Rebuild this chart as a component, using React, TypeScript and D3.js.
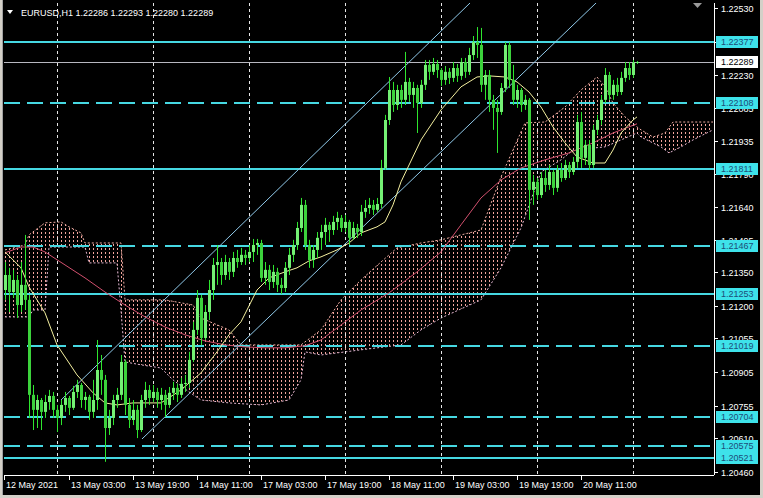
import React from "react";
import * as d3 from "d3";

const W = 763;
const H = 498;
const PL = 4, PR = 714, PT = 3, PB = 475;

const symbolTitle = "EURUSD,H1  1.22286 1.22293 1.22280 1.22289";

const firstOpen = 1.21271;
const closes = [
  1.21338, 1.21262, 1.21316, 1.21204, 1.21294, 1.21227, 1.20803, 1.20736, 1.20780, 1.20727,
  1.20771, 1.20798, 1.20736, 1.20700, 1.20758, 1.20789, 1.20745, 1.20816, 1.20847, 1.20780,
  1.20794, 1.20727, 1.20780, 1.20914, 1.20870, 1.20655, 1.20700, 1.20780, 1.20803, 1.20950,
  1.20758, 1.20691, 1.20736, 1.20646, 1.20780, 1.20825, 1.20789, 1.20816, 1.20780, 1.20803,
  1.20758, 1.20812, 1.20834, 1.20803, 1.20852, 1.20856, 1.20959, 1.21093, 1.21236, 1.21057,
  1.21173, 1.21271, 1.21383, 1.21396, 1.21338, 1.21396, 1.21352, 1.21414, 1.21396, 1.21428,
  1.21414, 1.21441, 1.21472, 1.21481, 1.21325, 1.21361, 1.21307, 1.21352, 1.21294, 1.21280,
  1.21370, 1.21428, 1.21472, 1.21548, 1.21651, 1.21472, 1.21405, 1.21450, 1.21504, 1.21530,
  1.21562, 1.21539, 1.21575, 1.21593, 1.21548, 1.21575, 1.21504, 1.21548, 1.21530, 1.21620,
  1.21637, 1.21651, 1.21629, 1.21655, 1.21816, 1.22030, 1.22164, 1.22097, 1.22164, 1.22120,
  1.22200, 1.22142, 1.22173, 1.22106, 1.22187, 1.22276, 1.22245, 1.22280, 1.22253, 1.22209,
  1.22245, 1.22218, 1.22262, 1.22227, 1.22289, 1.22245, 1.22320, 1.22378, 1.22365, 1.22187,
  1.22231, 1.22120, 1.22084, 1.22066, 1.22173, 1.22365, 1.22209, 1.22120, 1.22164, 1.22097,
  1.22120, 1.21718, 1.21754, 1.21695, 1.21771, 1.21740, 1.21798, 1.21727, 1.21807, 1.21771,
  1.21829, 1.21798, 1.21843, 1.22021, 1.21861, 1.21919, 1.21829, 1.21986, 1.22030, 1.22120,
  1.22231, 1.22142, 1.22187, 1.22155, 1.22218, 1.22262, 1.22231, 1.22286, 1.22289
];
const highs = [
  1.21396, 1.21370, 1.21361, 1.21338, 1.21396, 1.21517, 1.21249, 1.20847, 1.20803, 1.20789,
  1.20803, 1.20825, 1.20816, 1.20758, 1.20780, 1.20816, 1.20798, 1.20843, 1.20870, 1.20856,
  1.20816, 1.20803, 1.20870, 1.21048, 1.20981, 1.20892, 1.20736, 1.20803, 1.20834, 1.20981,
  1.20959, 1.20789, 1.20780, 1.20758, 1.20803, 1.20861, 1.20847, 1.20847, 1.20834, 1.20834,
  1.20825, 1.20838, 1.20861, 1.20852, 1.20879, 1.20892, 1.20995, 1.21129, 1.21271, 1.21249,
  1.21204, 1.21316, 1.21414, 1.21472, 1.21414, 1.21428, 1.21414, 1.21441, 1.21450, 1.21459,
  1.21450, 1.21472, 1.21499, 1.21499, 1.21495, 1.21396, 1.21383, 1.21383, 1.21370, 1.21325,
  1.21396, 1.21459, 1.21495, 1.21575, 1.21682, 1.21673, 1.21495, 1.21472, 1.21530, 1.21562,
  1.21593, 1.21575, 1.21602, 1.21620, 1.21606, 1.21606, 1.21584, 1.21575, 1.21566, 1.21651,
  1.21673, 1.21682, 1.21673, 1.21682, 1.21852, 1.22053, 1.22222, 1.22200, 1.22187, 1.22187,
  1.22334, 1.22218, 1.22200, 1.22187, 1.22209, 1.22298, 1.22298, 1.22307, 1.22298, 1.22262,
  1.22271, 1.22262, 1.22289, 1.22280, 1.22307, 1.22307, 1.22352, 1.22405, 1.22445, 1.22441,
  1.22253, 1.22253, 1.22142, 1.22120, 1.22195, 1.22378, 1.22378, 1.22276, 1.22187, 1.22173,
  1.22142, 1.22128, 1.21785, 1.21771, 1.21798, 1.21807, 1.21829, 1.21807, 1.21829, 1.21838,
  1.21852, 1.21843, 1.21865, 1.22053, 1.22066, 1.21941, 1.21941, 1.22008, 1.22053, 1.22142,
  1.22262, 1.22245, 1.22209, 1.22218, 1.22245, 1.22289, 1.22289, 1.22298, 1.22293
];
const lows = [
  1.21227, 1.21173, 1.21236, 1.21146, 1.21173, 1.21182, 1.20700, 1.20646, 1.20655, 1.20646,
  1.20700, 1.20736, 1.20700, 1.20637, 1.20668, 1.20727, 1.20713, 1.20736, 1.20789, 1.20745,
  1.20736, 1.20691, 1.20700, 1.20736, 1.20803, 1.20504, 1.20624, 1.20668, 1.20745, 1.20780,
  1.20713, 1.20655, 1.20668, 1.20610, 1.20637, 1.20745, 1.20758, 1.20771, 1.20745, 1.20736,
  1.20704, 1.20745, 1.20780, 1.20771, 1.20789, 1.20816, 1.20834, 1.20950, 1.21071, 1.21026,
  1.21048, 1.21137, 1.21227, 1.21294, 1.21294, 1.21316, 1.21316, 1.21329, 1.21370, 1.21383,
  1.21383, 1.21396, 1.21396, 1.21428, 1.21307, 1.21294, 1.21271, 1.21280, 1.21262, 1.21253,
  1.21262, 1.21338, 1.21396, 1.21450, 1.21530, 1.21450, 1.21370, 1.21370, 1.21414, 1.21450,
  1.21472, 1.21486, 1.21517, 1.21539, 1.21530, 1.21530, 1.21472, 1.21495, 1.21504, 1.21512,
  1.21593, 1.21611, 1.21606, 1.21620, 1.21637, 1.21807, 1.22008, 1.22066, 1.22075, 1.22084,
  1.22097, 1.22111, 1.22084, 1.21972, 1.22084, 1.22164, 1.22209, 1.22231, 1.22218, 1.22182,
  1.22187, 1.22191, 1.22200, 1.22200, 1.22209, 1.22218, 1.22231, 1.22298, 1.22307, 1.22155,
  1.22120, 1.22066, 1.21986, 1.21883, 1.22053, 1.22155, 1.22173, 1.22097, 1.22084, 1.22066,
  1.22075, 1.21584, 1.21651, 1.21673, 1.21682, 1.21709, 1.21718, 1.21695, 1.21709, 1.21754,
  1.21762, 1.21771, 1.21785, 1.21816, 1.21816, 1.21829, 1.21807, 1.21816, 1.21963, 1.22008,
  1.22106, 1.22120, 1.22120, 1.22137, 1.22142, 1.22200, 1.22209, 1.22218, 1.22280
];

// Moving averages: [bar index, price]
const maYellow = [
  [0, 1.21441], [4, 1.2137], [6, 1.21285], [10, 1.21169], [13, 1.21026], [18, 1.20892],
  [22, 1.20812], [25, 1.20767], [28, 1.20758], [32, 1.20767], [39, 1.20767], [44, 1.20825],
  [49, 1.20901], [53, 1.20995], [56, 1.21071], [59, 1.21129], [63, 1.21271], [66, 1.21325],
  [70, 1.21352], [73, 1.2137], [76, 1.21401], [79, 1.21419], [83, 1.2145], [86, 1.21481],
  [89, 1.21526], [93, 1.21553], [95, 1.21575], [97, 1.21651], [99, 1.21754], [104, 1.21941],
  [109, 1.22075], [114, 1.22178], [118, 1.22222], [121, 1.22227], [125, 1.22222], [128, 1.222],
  [131, 1.22155], [134, 1.22088], [137, 1.21999], [140, 1.21928], [143, 1.21865], [147, 1.21838],
  [150, 1.21838], [152, 1.21896], [154, 1.21972], [157, 1.2203], [158, 1.22044]
];
const maRed = [
  [0, 1.21437], [4, 1.21463], [7, 1.21463], [10, 1.21441], [15, 1.21383], [20, 1.21325],
  [25, 1.21262], [30, 1.21204], [35, 1.21151], [40, 1.21106], [45, 1.21071], [50, 1.21044],
  [55, 1.21026], [60, 1.21017], [65, 1.21013], [70, 1.21013], [75, 1.21022], [79, 1.21048],
  [84, 1.21115], [89, 1.21182], [96, 1.21258], [103, 1.21352], [109, 1.21441], [114, 1.21562],
  [119, 1.21682], [124, 1.21762], [129, 1.21816], [135, 1.21852], [141, 1.21883], [147, 1.21928],
  [152, 1.21972], [158, 1.22013]
];

// Ichimoku cloud envelope: [bar index, price]
const cloudUpper = [
  [0, 1.2145], [5, 1.21472], [6, 1.21517], [10, 1.21571], [14, 1.21575], [16, 1.21553],
  [19, 1.21526], [20, 1.21481], [29, 1.21481], [30, 1.21227], [40, 1.21227], [47, 1.21204],
  [49, 1.21146], [56, 1.21093], [59, 1.21026], [74, 1.21026], [79, 1.21093], [84, 1.21227],
  [89, 1.21316], [94, 1.21396], [98, 1.21459], [104, 1.21481], [109, 1.21495], [119, 1.21539],
  [124, 1.21776], [127, 1.21896], [130, 1.22017], [135, 1.22021], [140, 1.22088], [144, 1.22164],
  [148, 1.22222], [150, 1.22178], [152, 1.22106], [155, 1.22044], [158, 1.21999], [159, 1.21986],
  [162, 1.21954], [165, 1.21972], [167, 1.22021], [177, 1.22021]
];
const cloudLower = [
  [0, 1.21151], [6, 1.21151], [7, 1.21182], [10, 1.21182], [11, 1.21463], [20, 1.21463],
  [21, 1.21392], [28, 1.21392], [29, 1.21182], [30, 1.2095], [34, 1.20937], [39, 1.20923],
  [42, 1.2087], [46, 1.20816], [49, 1.2078], [56, 1.20767], [64, 1.20758], [71, 1.2078],
  [74, 1.2087], [75, 1.20995], [79, 1.20981], [89, 1.21004], [99, 1.21026], [104, 1.21093],
  [109, 1.21146], [119, 1.21227], [124, 1.2137], [129, 1.21548], [134, 1.21798], [139, 1.21852],
  [142, 1.21896], [150, 1.2191], [154, 1.21941], [158, 1.21972], [159, 1.21954], [164, 1.2191],
  [166, 1.21883], [169, 1.2191], [172, 1.21941], [177, 1.21986]
];

// Trend channel anchors: [bar index, price]
const channelUpper = [[14, 1.2078], [116, 1.22548]];
const channelLower = [[34.25, 1.20606], [147.5, 1.22548]];

const solidLevels = [1.22377, 1.21811, 1.21253, 1.20521];
const dashedLevels = [1.22108, 1.21467, 1.21019, 1.20704, 1.20575];
const bidPrice = 1.22289;

const priceTicks = [
  1.2253, 1.2238, 1.2223, 1.22085, 1.21935, 1.2179, 1.2164, 1.21495, 1.2135, 1.212,
  1.21055, 1.20905, 1.20755, 1.2061, 1.2046
];
const timeLabels = [
  "12 May 2021", "13 May 03:00", "13 May 19:00", "14 May 11:00", "17 May 03:00",
  "17 May 19:00", "18 May 11:00", "19 May 03:00", "19 May 19:00", "20 May 11:00"
];
const timeLabelBars = [-0.25, 16, 32, 48, 64, 80, 96, 112, 128, 144];
const daySeparatorBars = [13, 37, 61, 85, 109, 133, 157];

const FONT = "'Liberation Sans', Arial, sans-serif";

export default function App() {
  const x = d3.scaleLinear().domain([0, 158]).range([5, 637]);
  const y = d3.scaleLinear().domain([1.2046, 1.2253]).range([471.68, 8]);
  const opens = closes.map((c, i) => (i === 0 ? firstOpen : closes[i - 1]));

  const line = d3
    .line<number[]>()
    .x((d) => x(d[0]))
    .y((d) => y(d[1]));

  const cloudPoly = [...cloudUpper, ...cloudLower.slice().reverse()];
  const cloudPath = line(cloudPoly) + "Z";

  const channelPath = (a: number[][]) => {
    const [p0, p1] = a;
    const slope = (p1[1] - p0[1]) / (p1[0] - p0[0]);
    const far = 200;
    return line([p0, [far, p0[1] + slope * (far - p0[0])]]);
  };

  const lvl = (p: number) => Math.round(y(p));

  return (
    <svg
      width={W}
      height={H}
      style={{ position: "absolute", left: 0, top: 0, display: "block" }}
      fontFamily={FONT}
    >
      <defs>
        <clipPath id="plot">
          <rect x={PL} y={PT} width={PR - PL} height={PB - PT} />
        </clipPath>
        <pattern id="kumo" patternUnits="userSpaceOnUse" x={5} y={0} width={4} height={4}>
          <rect x={0} y={0} width={1} height={2} fill="#F2A49C" />
        </pattern>
      </defs>
      <rect x={0} y={0} width={W} height={H} fill="#D4D0C8" />
      <rect x={2} y={0} width={W - 5} height={495} fill="#000" />

      <g clipPath="url(#plot)">
        {/* cloud */}
        <path d={cloudPath} fill="url(#kumo)" />
        <path d={line(cloudUpper) || ""} fill="none" stroke="#F0AEA4" strokeWidth={1} strokeDasharray="2 2" />
        <path d={line(cloudLower) || ""} fill="none" stroke="#E4B8D4" strokeWidth={1} strokeDasharray="2 2" />

        {/* day separators */}
        {daySeparatorBars.map((b) => (
          <line
            key={"sep" + b}
            x1={x(b) + 0.5}
            x2={x(b) + 0.5}
            y1={PT}
            y2={PB}
            stroke="#E6E6E6"
            strokeWidth={1}
            strokeDasharray="3 3"
          />
        ))}

        {/* horizontal levels */}
        {solidLevels.map((p) => (
          <line key={"s" + p} x1={PL} x2={PR} y1={lvl(p)} y2={lvl(p)} stroke="#46D8E2" strokeWidth={2} />
        ))}
        {dashedLevels.map((p) => (
          <line
            key={"d" + p}
            x1={PL}
            x2={PR}
            y1={lvl(p)}
            y2={lvl(p)}
            stroke="#46D8E2"
            strokeWidth={2}
            strokeDasharray="16 7"
          />
        ))}
        <line x1={PL} x2={PR} y1={lvl(bidPrice) + 0.5} y2={lvl(bidPrice) + 0.5} stroke="#B8B8C0" strokeWidth={1} />

        {/* channel */}
        <path d={channelPath(channelUpper) || ""} stroke="#8FC8E8" strokeWidth={1} fill="none" />
        <path d={channelPath(channelLower) || ""} stroke="#8FC8E8" strokeWidth={1} fill="none" />

        {/* MAs */}
        <path d={line(maRed) || ""} stroke="#D2506E" strokeWidth={1} fill="none" />
        <path d={line(maYellow) || ""} stroke="#F4F0A0" strokeWidth={1} fill="none" />

        {/* candles */}
        {closes.map((c, i) => {
          const o = opens[i];
          const cx = Math.round(x(i));
          const top = y(Math.max(o, c));
          const bot = y(Math.min(o, c));
          const bull = c >= o;
          return (
            <g key={"c" + i}>
              <line
                x1={cx + 0.5}
                x2={cx + 0.5}
                y1={y(highs[i])}
                y2={y(lows[i])}
                stroke="#2EE62E"
                strokeWidth={1}
              />
              <rect
                x={cx - 1}
                y={top}
                width={3}
                height={Math.max(1, bot - top)}
                fill={bull ? "#74F074" : "#3CD23C"}
              />
            </g>
          );
        })}
      </g>

      {/* axes */}
      <line x1={PR + 0.5} x2={PR + 0.5} y1={PT} y2={PB} stroke="#FFFFFF" strokeWidth={1} />
      <line x1={PL} x2={PR} y1={PB + 0.5} y2={PB + 0.5} stroke="#FFFFFF" strokeWidth={1} />
      <line x1={2.5} x2={2.5} y1={0} y2={495} stroke="#A0A0A0" strokeWidth={1} />

      {priceTicks.map((p) => (
        <g key={"t" + p}>
          <line x1={PR} x2={PR + 4} y1={lvl(p) + 0.5} y2={lvl(p) + 0.5} stroke="#fff" />
          <text x={721} y={lvl(p) + 0.5} dy="0.35em" fill="#FFFFFF" fontSize={9}>
            {p.toFixed(5)}
          </text>
        </g>
      ))}

      {timeLabels.map((t, k) => {
        const tx = Math.round(x(timeLabelBars[k]));
        return (
          <g key={"tl" + k}>
            <line x1={tx + 0.5} x2={tx + 0.5} y1={PB} y2={PB + 5} stroke="#fff" />
            <text x={tx + 2} y={488} fill="#FFFFFF" fontSize={9}>
              {t}
            </text>
          </g>
        );
      })}

      {/* level labels */}
      {[...solidLevels, ...dashedLevels].map((p) => (
        <g key={"lab" + p}>
          <rect x={716} y={lvl(p) - 6} width={42} height={12} fill="#3EE2EA" />
          <text x={721} y={lvl(p)} dy="0.35em" fill="#1D4C78" fontSize={9}>
            {p.toFixed(5)}
          </text>
        </g>
      ))}
      <g>
        <rect x={716} y={lvl(bidPrice) - 6} width={42} height={12} fill="#FFFFFF" />
        <text x={721} y={lvl(bidPrice)} dy="0.35em" fill="#000" fontSize={9}>
          {bidPrice.toFixed(5)}
        </text>
      </g>

      {/* title */}
      <polygon points="7,10 13,10 10,14" fill="#FFFFFF" />
      <text x={21} y={16} fill="#FFFFFF" fontSize={9}>
        {symbolTitle}
      </text>
      <polygon points="693,3 702,3 697.5,8" fill="#9A9A9A" />
    </svg>
  );
}
